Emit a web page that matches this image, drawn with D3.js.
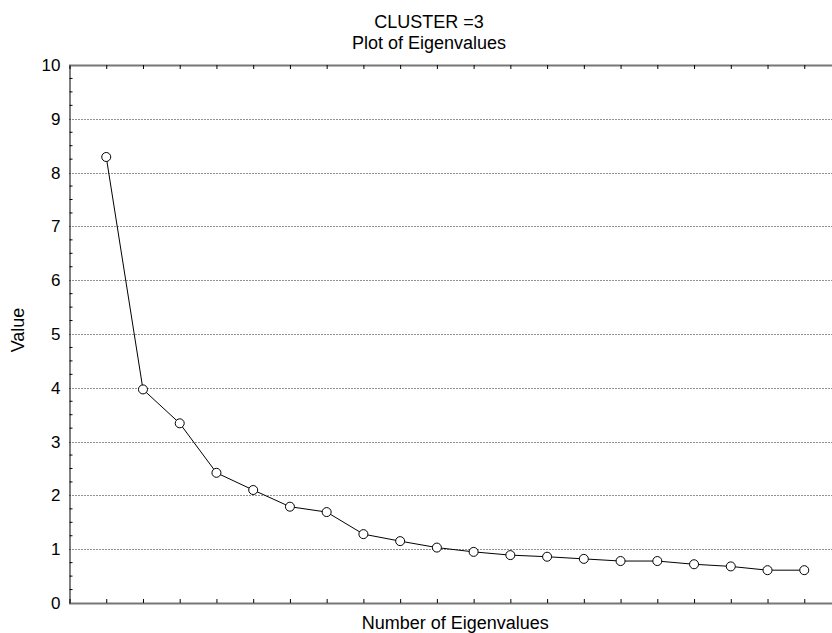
<!DOCTYPE html>
<html>
<head>
<meta charset="utf-8">
<script src="https://cdn.jsdelivr.net/npm/d3@7"></script>
<style>
  html, body { margin: 0; padding: 0; background: #fff; }
  svg { display: block; font-family: "Liberation Sans", Arial, sans-serif; }
</style>
</head>
<body>
<svg id="chart" width="832" height="633"></svg>
<script>
// Scree plot: eigenvalues in descending order
const titleLines = ["CLUSTER =3", "Plot of Eigenvalues"];
const xTitle = "Number of Eigenvalues";
const yTitle = "Value";
const eigenNumbers = d3.range(1, 21);
const eigenValues = [8.29, 3.97, 3.34, 2.42, 2.10, 1.79, 1.69, 1.28, 1.15, 1.03,
                     0.95, 0.89, 0.86, 0.82, 0.78, 0.78, 0.72, 0.68, 0.61, 0.61];
const yTicks = [0, 1, 2, 3, 4, 5, 6, 7, 8, 9, 10];
const xDomain = [0, 21];
const yDomain = [0, 10];

const svg = d3.select("#chart");
const W = 832, H = 633;
const plotLeft = 69.5, plotRight = 841, plotTop = 65, plotBottom = 603;

const x = d3.scaleLinear().domain(xDomain).range([plotLeft, plotRight]);
const y = d3.scaleLinear().domain(yDomain).range([plotBottom, plotTop]);

svg.append("defs").append("clipPath").attr("id", "plotclip")
  .append("rect").attr("x", 0).attr("y", 0).attr("width", W).attr("height", H);

const g = svg.append("g").attr("clip-path", "url(#plotclip)");

// dotted horizontal grid
g.append("g")
  .selectAll("line")
  .data(yTicks.filter(v => v > yDomain[0] && v < yDomain[1]))
  .join("line")
  .attr("x1", plotLeft).attr("x2", plotRight)
  .attr("y1", d => Math.round(y(d)) + 0.5).attr("y2", d => Math.round(y(d)) + 0.5)
  .attr("stroke", "#222").attr("stroke-width", 1)
  .attr("stroke-dasharray", "1,2");

// bottom and top axes with inward ticks
const xTickVals = d3.range(1, 21);
const xAxisBottom = d3.axisBottom(x).tickValues(xTickVals).tickSize(-4).tickFormat("");
const xAxisTop = d3.axisTop(x).tickValues(xTickVals).tickSize(-4).tickFormat("");

const gb = g.append("g").attr("transform", `translate(0,${plotBottom})`).call(xAxisBottom);
const gt = g.append("g").attr("transform", `translate(0,${plotTop})`).call(xAxisTop);
[gb, gt].forEach(a => {
  a.select(".domain").attr("stroke", "#777").attr("stroke-width", 2);
  a.selectAll(".tick line").attr("stroke", "#000").attr("stroke-width", 1);
});

// left axis: labelled integers with quarter-step minor ticks
const minor = d3.range(0, 10.001, 0.25).filter(v => Math.abs(v - Math.round(v)) > 1e-6);
const gl = svg.append("g").attr("transform", `translate(${plotLeft},0)`);
gl.call(d3.axisLeft(y).tickValues(yTicks).tickSize(0).tickPadding(9).tickFormat(d3.format("d")));
gl.select(".domain").attr("stroke", "#000").attr("stroke-width", 1);
gl.selectAll(".tick text")
  .attr("font-size", 17).attr("fill", "#000")
  .attr("font-family", "Liberation Sans, Arial, sans-serif");
gl.append("g").selectAll("line").data(minor).join("line")
  .attr("x1", 0).attr("x2", 3)
  .attr("y1", d => y(d)).attr("y2", d => y(d))
  .attr("stroke", "#000").attr("stroke-width", 1);

// series line and open circle markers
const line = d3.line().x((d, i) => x(eigenNumbers[i])).y(d => y(d));
g.append("path")
  .datum(eigenValues)
  .attr("d", line)
  .attr("fill", "none").attr("stroke", "#000").attr("stroke-width", 1);

g.append("g").selectAll("circle")
  .data(eigenValues)
  .join("circle")
  .attr("cx", (d, i) => x(eigenNumbers[i]))
  .attr("cy", d => y(d))
  .attr("r", 4.5)
  .attr("fill", "#fff").attr("stroke", "#000").attr("stroke-width", 1);

// titles
svg.append("g").selectAll("text")
  .data(titleLines)
  .join("text")
  .attr("x", 429).attr("y", (d, i) => 28 + i * 21)
  .attr("text-anchor", "middle")
  .attr("font-size", 18).attr("fill", "#000")
  .text(d => d);

svg.append("text")
  .attr("x", (plotLeft + plotRight) / 2).attr("y", 629)
  .attr("text-anchor", "middle")
  .attr("font-size", 18).attr("fill", "#000")
  .text(xTitle);

svg.append("text")
  .attr("transform", `translate(24,330) rotate(-90)`)
  .attr("text-anchor", "middle")
  .attr("font-size", 18).attr("fill", "#000")
  .text(yTitle);
</script>
</body>
</html>
